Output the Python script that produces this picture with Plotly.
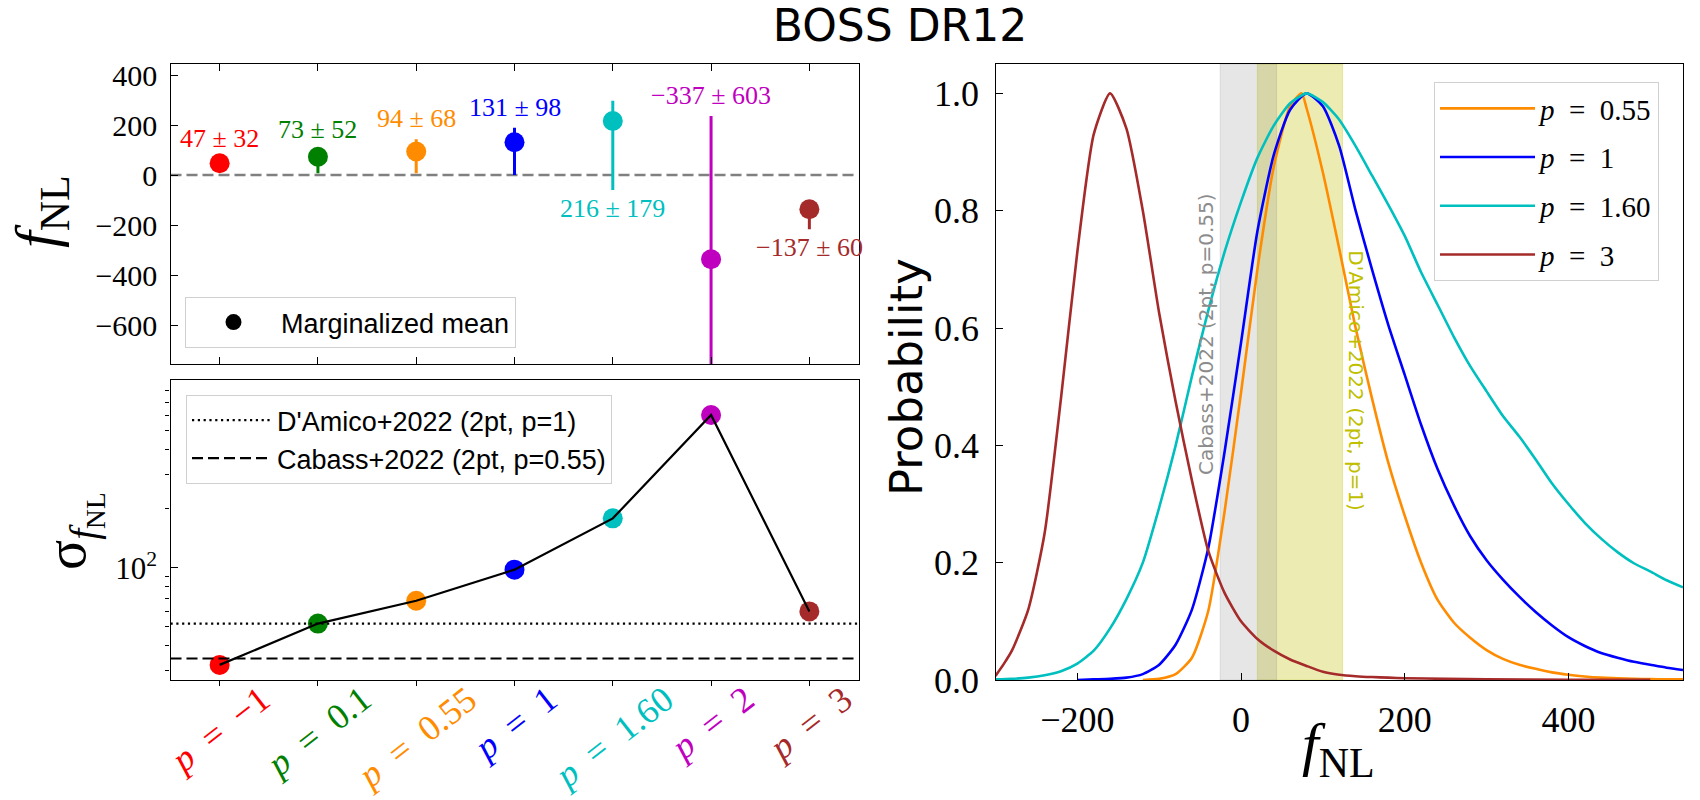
import plotly.graph_objects as go

# ---------------- data ----------------
p_values = ["−1", "0.1", "0.55", "1", "1.60", "2", "3"]
p_colors = ["#FF0000", "#008000", "#FF8C00", "#0000FF", "#00BFBF", "#BF00BF", "#A52A2A"]
fnl_mean = [47, 73, 94, 131, 216, -337, -137]
fnl_sigma = [32, 52, 68, 98, 179, 603, 60]
fnl_lo = [20, 7, 7, 0, -60, -940, -217]
fnl_hi = [64, 100, 143, 189, 297, 236, -110]
label_below = [False, False, False, False, True, False, True]

ref_names = ["D'Amico+2022 (2pt, p=1)", "Cabass+2022 (2pt, p=0.55)"]
ref_center = [72, 9]
ref_sigma = [52, 34.5]

curve_p = ["0.55", "1", "1.60", "3"]
curve_colors = ["#FF8C00", "#0000FF", "#00BFBF", "#A52A2A"]

f_055 = [-120, -100, -80, -60, -40, -20, 0, 20, 40, 60, 74, 80, 100, 120, 140, 160, 180, 200, 220, 240, 260,
         280, 300, 320, 340, 360, 380, 400, 420, 440, 460, 480, 500, 520, 540]
P_055 = [0.0, 0.002, 0.010, 0.038, 0.118, 0.288, 0.49, 0.70, 0.875, 0.978, 1.0, 0.975, 0.865, 0.735, 0.60,
         0.48, 0.37, 0.28, 0.20, 0.137, 0.098, 0.072, 0.051, 0.036, 0.026, 0.019, 0.013, 0.009, 0.006, 0.004,
         0.003, 0.002, 0.0015, 0.001, 0.001]

f_1 = [-200, -180, -160, -140, -120, -100, -80, -60, -40, -20, 0, 20, 40, 60, 80, 100, 120, 140, 160, 180, 200,
       220, 240, 260, 280, 300, 320, 340, 360, 380, 400, 420, 440, 460, 480, 500, 520, 540]
P_1 = [0.0, 0.001, 0.002, 0.004, 0.010, 0.026, 0.060, 0.120, 0.225, 0.39, 0.575, 0.765, 0.895, 0.972, 1.0,
       0.978, 0.91, 0.80, 0.70, 0.605, 0.52, 0.435, 0.36, 0.298, 0.245, 0.204, 0.171, 0.142, 0.116, 0.093,
       0.073, 0.058, 0.046, 0.038, 0.031, 0.026, 0.021, 0.017]

f_16 = [-300, -280, -260, -240, -220, -200, -180, -160, -140, -120, -100, -80, -60, -40, -20, 0, 20, 40, 60, 80,
        100, 120, 140, 160, 180, 200, 220, 240, 260, 280, 300, 320, 340, 360, 380, 400, 420, 440, 460, 480, 500,
        520, 540]
P_16 = [0.001, 0.002, 0.004, 0.008, 0.015, 0.028, 0.050, 0.088, 0.138, 0.200, 0.294, 0.399, 0.518, 0.63, 0.73,
        0.815, 0.89, 0.945, 0.983, 1.0, 0.985, 0.955, 0.91, 0.86, 0.81, 0.757, 0.695, 0.64, 0.585, 0.535, 0.492,
        0.45, 0.415, 0.376, 0.335, 0.30, 0.268, 0.241, 0.218, 0.199, 0.185, 0.170, 0.158]

f_3 = [-300, -290, -280, -260, -240, -220, -200, -180, -160, -140, -120, -100, -80, -60, -40, -20, 0, 20, 40, 60,
       80, 100, 120, 140, 160, 180, 200, 250, 300, 400, 500]
P_3 = [0.007, 0.027, 0.05, 0.12, 0.25, 0.48, 0.73, 0.93, 1.0, 0.94, 0.80, 0.625, 0.475, 0.34, 0.22, 0.148, 0.10,
       0.07, 0.05, 0.035, 0.024, 0.014, 0.009, 0.0065, 0.005, 0.004, 0.003, 0.002, 0.001, 0.0005, 0.0002]

curves_f = [f_055, f_1, f_16, f_3]
curves_P = [P_055, P_1, P_16, P_3]

ZERO = 0

# ---------------- styling ----------------
SERIF = "Liberation Serif"
SANS = "Liberation Sans"
DSANS = "DejaVu Sans"
EN = "\u2002"


def plabel(v):
    return f"<i>p</i>{EN}={EN}{v}"


def num(v):
    return str(v).replace("-", "−")


p_keys = [f"p={v}" for v in p_values]

fig = go.Figure()

# ---- top-left: marginalized means ----
for k in range(len(p_keys)):
    fig.add_trace(go.Scatter(
        x=[p_keys[k]], y=[fnl_mean[k]], mode="markers",
        marker=dict(size=20, color=p_colors[k]),
        error_y=dict(type="data", symmetric=False,
                     array=[fnl_hi[k] - fnl_mean[k]], arrayminus=[fnl_mean[k] - fnl_lo[k]],
                     color=p_colors[k], thickness=3, width=0),
        xaxis="x", yaxis="y", showlegend=False, hoverinfo="skip"))
fig.add_trace(go.Scatter(x=[None], y=[None], mode="markers", marker=dict(size=20, color="black"),
                         name="Marginalized mean", legend="legend2", xaxis="x", yaxis="y"))

fig.add_shape(type="line", xref="x domain", yref="y", x0=0, x1=1, y0=ZERO, y1=ZERO,
              line=dict(color="#808080", width=2.5, dash="11px,5px"), layer="below")

for k in range(len(p_keys)):
    below = label_below[k]
    fig.add_annotation(x=p_keys[k], y=fnl_lo[k] if below else fnl_hi[k], xref="x", yref="y",
                       text=f"{num(fnl_mean[k])} ± {fnl_sigma[k]}", showarrow=False,
                       xanchor="center", yanchor="top" if below else "bottom", yshift=-2 if below else 4,
                       font=dict(family=SERIF, size=26, color=p_colors[k]))

# ---- bottom-left: sigma ----
fig.add_trace(go.Scatter(x=p_keys, y=fnl_sigma, mode="markers", marker=dict(size=20, color=p_colors),
                         xaxis="x2", yaxis="y2", showlegend=False, hoverinfo="skip"))
fig.add_trace(go.Scatter(x=p_keys, y=fnl_sigma, mode="lines", line=dict(color="black", width=2.2),
                         xaxis="x2", yaxis="y2", showlegend=False, hoverinfo="skip"))
for name, s, dash in zip(ref_names, ref_sigma, ["2.2px,3.6px", "11px,5px"]):
    fig.add_shape(type="line", xref="x2 domain", yref="y2", x0=0, x1=1, y0=s, y1=s,
                  line=dict(color="black", width=2.2, dash=dash),
                  showlegend=True, legend="legend3", name=name)

for k in range(len(p_keys)):
    fig.add_annotation(x=p_keys[k], y=0, xref="x2", yref="y2 domain", text=plabel(p_values[k]),
                       showarrow=False, textangle=-38, xanchor="center", yanchor="top", yshift=4,
                       font=dict(family=SERIF, size=36, color=p_colors[k]))

# ---- right: posteriors ----
band_fill = ["rgba(191,191,0,0.3)", "rgba(128,128,128,0.2)"]
band_text_color = ["#BFBF00", "#8C8C8C"]
for c, s, fill in zip(ref_center, ref_sigma, band_fill):
    fig.add_shape(type="rect", xref="x3", yref="y3 domain", x0=c - s, x1=c + s, y0=0, y1=1,
                  fillcolor=fill, line=dict(width=1, color=fill), layer="below")
# D'Amico label to the right of its band, Cabass to the left
fig.add_annotation(x=ref_center[0] + ref_sigma[0], y=0.51, xref="x3", yref="y3", text=ref_names[0],
                   showarrow=False, textangle=90, xanchor="left", yanchor="middle",
                   font=dict(family=DSANS, size=20, color=band_text_color[0]))
fig.add_annotation(x=ref_center[1] - ref_sigma[1], y=0.59, xref="x3", yref="y3", text=ref_names[1],
                   showarrow=False, textangle=-90, xanchor="right", yanchor="middle",
                   font=dict(family=DSANS, size=20, color=band_text_color[1]))

for pv, col, fx, Py in zip(curve_p, curve_colors, curves_f, curves_P):
    fig.add_trace(go.Scatter(x=fx, y=Py, mode="lines", name=plabel(pv), legendgroup=pv,
                             line=dict(color=col, width=2.6, shape="spline", smoothing=0.6),
                             xaxis="x3", yaxis="y3", legend="legend", hoverinfo="skip"))

# ---------------- axes ----------------
axis_common = dict(showline=True, linecolor="black", linewidth=1.4, showgrid=False, zeroline=False,
                   tickcolor="black", tickwidth=1.4, automargin=False)
left_dom = [170.5 / 1700, 858.5 / 1700]
fig.update_layout(
    xaxis=dict(domain=left_dom, anchor="y", type="category", categoryorder="array", categoryarray=p_keys,
               range=[-0.5, 6.5], ticks="inside", ticklen=7, mirror="ticks", showticklabels=False,
               **axis_common),
    yaxis=dict(domain=[1 - 364 / 800, 1 - 64 / 800], anchor="x", range=[-756, 444],
               tickvals=[-600, -400, -200, 0, 200, 400], ticks="inside", ticklen=7, mirror=True,
               ticklabelstandoff=6, tickfont=dict(family=SERIF, size=30, color="black"), **axis_common),
    xaxis2=dict(domain=left_dom, anchor="y2", type="category", categoryorder="array", categoryarray=p_keys,
                range=[-0.5, 6.5], ticks="outside", ticklen=5, mirror=True, showticklabels=False,
                **axis_common),
    yaxis2=dict(domain=[1 - 680 / 800, 1 - 380 / 800], anchor="x2", type="log",
                range=[1.428, 2.959], tickvals=[100], ticktext=["10<sup>2</sup>"], ticks="inside",
                ticklen=7, mirror=True, ticklabelstandoff=6,
                tickfont=dict(family=SERIF, size=31, color="black"),
                minor=dict(tickvals=[30, 40, 50, 60, 70, 80, 90, 200, 300, 400, 500, 600, 700, 800, 900],
                           ticks="outside", ticklen=4, tickcolor="black", tickwidth=1),
                **axis_common),
    xaxis3=dict(domain=[995.5 / 1700, 1683 / 1700], anchor="y3", range=[-300, 540],
                tickvals=[-200, 0, 200, 400], ticks="inside", ticklen=7, mirror=True,
                ticklabelstandoff=8, tickfont=dict(family=SERIF, size=36, color="black"), **axis_common),
    yaxis3=dict(domain=[1 - 680 / 800, 1 - 64 / 800], anchor="x3", range=[0, 1.05],
                tickvals=[0, 0.2, 0.4, 0.6, 0.8, 1.0], tickformat=".1f", ticks="inside", ticklen=7,
                mirror=True, ticklabelstandoff=8, tickfont=dict(family=SERIF, size=36, color="black"),
                **axis_common),
)

# axis titles
title_common = dict(xref="paper", yref="paper", showarrow=False, xanchor="center", yanchor="middle")
fig.add_annotation(x=40 / 1700, y=1 - 212 / 800, text="<i>f</i><sub>NL</sub>", textangle=-90,
                   font=dict(family=SERIF, size=60, color="black"), **title_common)
fig.add_annotation(x=73 / 1700, y=1 - 531 / 800, text="σ<sub><i>f</i><sub>NL</sub></sub>", textangle=-90,
                   font=dict(family=SERIF, size=56, color="black"), **title_common)
fig.add_annotation(x=907 / 1700, y=1 - 377 / 800, text="Probability", textangle=-90,
                   font=dict(family=DSANS, size=45, color="black"), **title_common)
fig.add_annotation(x=1338 / 1700, y=1 - 748 / 800, text="<i>f</i><sub>NL</sub>",
                   font=dict(family=SERIF, size=60, color="black"), **title_common)

legend_common = dict(bgcolor="white", bordercolor="#d0d0d0", borderwidth=1, xanchor="left", yanchor="top")
fig.update_layout(
    width=1700, height=800, margin=dict(l=0, r=0, t=0, b=0, autoexpand=False),
    paper_bgcolor="white", plot_bgcolor="white",
    title=dict(text="BOSS DR12", x=900 / 1700, xanchor="center", y=1 - 26 / 800, yanchor="middle",
               font=dict(family=DSANS, size=44, color="black"), automargin=False),
    legend=dict(x=1434 / 1700, y=1 - 82 / 800, font=dict(family=SERIF, size=29, color="black"),
                tracegroupgap=8, itemwidth=95, **legend_common),
    legend2=dict(x=185 / 1700, y=1 - 297 / 800, font=dict(family=SANS, size=27, color="black"),
                 itemsizing="trace", itemwidth=85, **legend_common),
    legend3=dict(x=186 / 1700, y=1 - 395 / 800, font=dict(family=SANS, size=27, color="black"),
                 itemwidth=80, **legend_common),
)

fig.write_html("out.html", config={"displayModeBar": False},
               post_script="document.body.style.margin='0';")
